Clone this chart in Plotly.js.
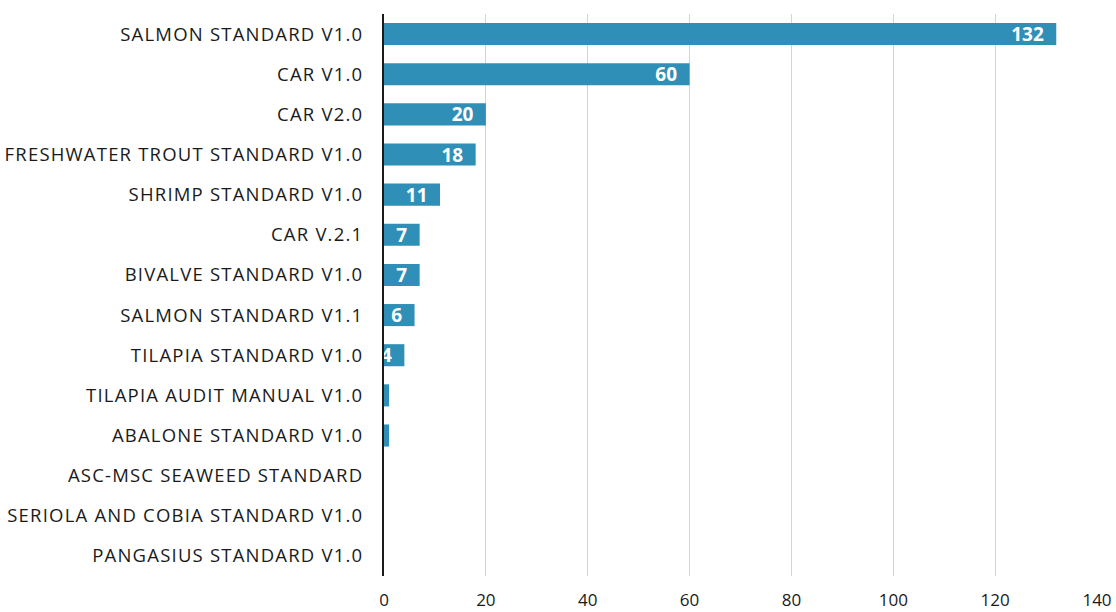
<!DOCTYPE html>
<html>
<head>
<meta charset="utf-8">
<script src="https://cdn.plot.ly/plotly-3.0.1.min.js"></script>
<style>
html,body{margin:0;padding:0;background:#fff}
#chart{width:1116px;height:612px}
#chart .ytick text{letter-spacing:1.2px}
</style>
</head>
<body>
<div id="chart"></div>
<script>
const categories = [
  "SALMON STANDARD V1.0",
  "CAR V1.0",
  "CAR V2.0",
  "FRESHWATER TROUT STANDARD V1.0",
  "SHRIMP STANDARD V1.0",
  "CAR V.2.1",
  "BIVALVE STANDARD V1.0",
  "SALMON STANDARD V1.1",
  "TILAPIA STANDARD V1.0",
  "TILAPIA AUDIT MANUAL V1.0",
  "ABALONE STANDARD V1.0",
  "ASC-MSC SEAWEED STANDARD",
  "SERIOLA AND COBIA STANDARD V1.0",
  "PANGASIUS STANDARD V1.0"
];
const values = [132, 60, 20, 18, 11, 7, 7, 6, 4, 1, 1, 0, 0, 0];
const tickVals = [0, 20, 40, 60, 80, 100, 120, 140];

const trace = {
  type: 'bar',
  orientation: 'h',
  y: categories,
  x: values,
  marker: {color: '#2f8fb7'},
  text: values.map(v => v >= 4 ? String(v) + '\u2002' : ''),
  textposition: 'inside',
  insidetextanchor: 'end',
  constraintext: 'none',
  textangle: 0,
  textfont: {family: '"Open Sans", sans-serif', size: 19, color: '#ffffff', weight: 'bold'},
  hoverinfo: 'x+y',
  cliponaxis: false
};

const layout = {
  width: 1116,
  height: 612,
  margin: {l: 384, r: 19, t: 14, b: 36},
  paper_bgcolor: '#ffffff',
  plot_bgcolor: '#ffffff',
  showlegend: false,
  bargap: 0.45,
  font: {family: '"Open Sans", sans-serif', size: 17, color: '#1a1a1a'},
  xaxis: {
    range: [0, 140],
    tickvals: tickVals,
    ticktext: tickVals.map(String),
    showgrid: true,
    gridcolor: '#d4d4d4',
    gridwidth: 1,
    zeroline: false,
    showline: false,
    ticks: '',
    ticklabelstandoff: 12,
    tickfont: {family: '"Open Sans", sans-serif', size: 17, color: '#1a1a1a'},
    fixedrange: true
  },
  yaxis: {
    autorange: 'reversed',
    showline: true,
    linecolor: '#1a1a1a',
    linewidth: 2,
    ticks: '',
    ticklabelstandoff: 15,
    tickfont: {family: '"Open Sans", sans-serif', size: 18.5, color: '#1a1a1a'},
    fixedrange: true
  }
};

Plotly.newPlot('chart', [trace], layout, {displayModeBar: false, staticPlot: true});
</script>
</body>
</html>
